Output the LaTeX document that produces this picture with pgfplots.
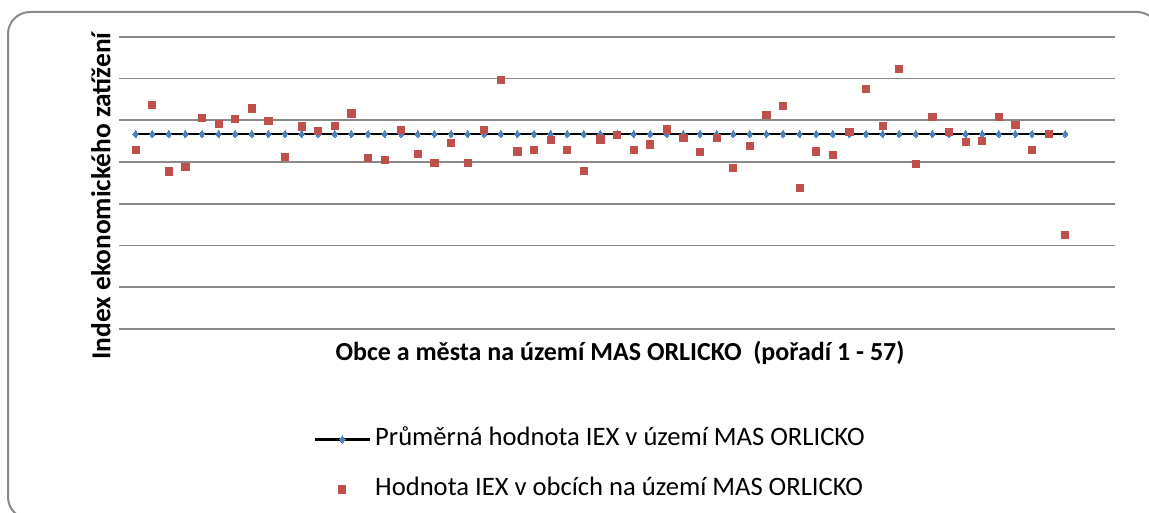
\documentclass[border=0pt]{standalone}
\usepackage{pgfplots}
\pgfplotsset{compat=1.18}
\usepackage{fontspec}
\setmainfont{Carlito}
\definecolor{exblue}{HTML}{4F81BD}
\definecolor{exred}{HTML}{C0504D}
\definecolor{exgrid}{HTML}{898989}
\begin{document}
\begin{tikzpicture}
\begin{scope}
\clip (0pt,0pt) rectangle (574.5pt,-256.5pt);
\draw[exgrid, line width=1pt, rounded corners=11pt] (4pt,-6pt) rectangle (579.5pt,-259.5pt);
\end{scope}
\begin{axis}[
  at={(59.5pt,-164.5pt)}, anchor=south west,
  scale only axis, width=498pt, height=146.15pt,
  xmin=0, xmax=60, ymin=0, ymax=7,
  xtick=\empty, ytick={0,1,2,3,4,5,6,7}, yticklabels={},
  major tick length=0pt,
  ymajorgrids, grid style={exgrid, line width=0.85pt},
  axis line style={draw=none},
  xlabel={\bfseries Obce a města na území MAS ORLICKO\ \ (pořadí 1 - 57)},
  xlabel style={at={(axis description cs:0.503,-0.0804)}, anchor=center, font=\fontsize{13}{15}\selectfont},
  ylabel={\bfseries Index ekonomického zatížení},
  ylabel style={at={(axis description cs:-0.0181,0.455)}, anchor=center, rotate=0, font=\fontsize{13.7}{16}\selectfont},
  legend style={at={(axis description cs:0.1948,-0.3336)}, anchor=north west, draw=none, fill=none,
    inner sep=0pt, font=\fontsize{13.3}{15}\selectfont, row sep=12.5pt, column sep=2pt,
    nodes={inner sep=0pt, text height=9.5pt, text depth=3pt}},
  legend cell align=left,
  legend image code/.code={\draw[mark repeat=2,mark phase=2,#1] plot coordinates {(0pt,0pt) (13.75pt,0pt) (27.5pt,0pt)};},
]
\addplot[black, line width=1.4pt, mark=diamond*, mark size=1.8pt, mark options={exblue, draw=exblue, line width=0pt}]
coordinates {
(1,4.67)(2,4.67)(3,4.67)(4,4.67)(5,4.67)(6,4.67)(7,4.67)(8,4.67)(9,4.67)(10,4.67)
(11,4.67)(12,4.67)(13,4.67)(14,4.67)(15,4.67)(16,4.67)(17,4.67)(18,4.67)(19,4.67)(20,4.67)
(21,4.67)(22,4.67)(23,4.67)(24,4.67)(25,4.67)(26,4.67)(27,4.67)(28,4.67)(29,4.67)(30,4.67)
(31,4.67)(32,4.67)(33,4.67)(34,4.67)(35,4.67)(36,4.67)(37,4.67)(38,4.67)(39,4.67)(40,4.67)
(41,4.67)(42,4.67)(43,4.67)(44,4.67)(45,4.67)(46,4.67)(47,4.67)(48,4.67)(49,4.67)(50,4.67)
(51,4.67)(52,4.67)(53,4.67)(54,4.67)(55,4.67)(56,4.67)(57,4.67)
};
\addlegendentry{Průměrná hodnota IEX v území MAS ORLICKO}
\addplot[only marks, mark=square*, mark size=1.8pt, mark options={exred, draw=exred, line width=0pt}]
coordinates {
(1,4.28)(2,5.36)(3,3.77)(4,3.88)(5,5.05)(6,4.91)(7,5.02)(8,5.28)(9,4.98)(10,4.11)
(11,4.85)(12,4.74)(13,4.86)(14,5.16)(15,4.09)(16,4.05)(17,4.76)(18,4.19)(19,3.97)(20,4.46)
(21,3.97)(22,4.76)(23,5.96)(24,4.25)(25,4.29)(26,4.53)(27,4.29)(28,3.78)(29,4.54)(30,4.64)
(31,4.29)(32,4.42)(33,4.78)(34,4.57)(35,4.23)(36,4.57)(37,3.86)(38,4.39)(39,5.12)(40,5.34)
(41,3.37)(42,4.25)(43,4.17)(44,4.72)(45,5.75)(46,4.87)(47,6.23)(48,3.96)(49,5.08)(50,4.72)
(51,4.47)(52,4.51)(53,5.07)(54,4.88)(55,4.28)(56,4.67)(57,2.26)
};
\addlegendentry{Hodnota IEX v obcích na území MAS ORLICKO}
\end{axis}
\pgfresetboundingbox
\useasboundingbox (0pt,0pt) rectangle (574.5pt,-256.5pt);
\end{tikzpicture}
\end{document}
